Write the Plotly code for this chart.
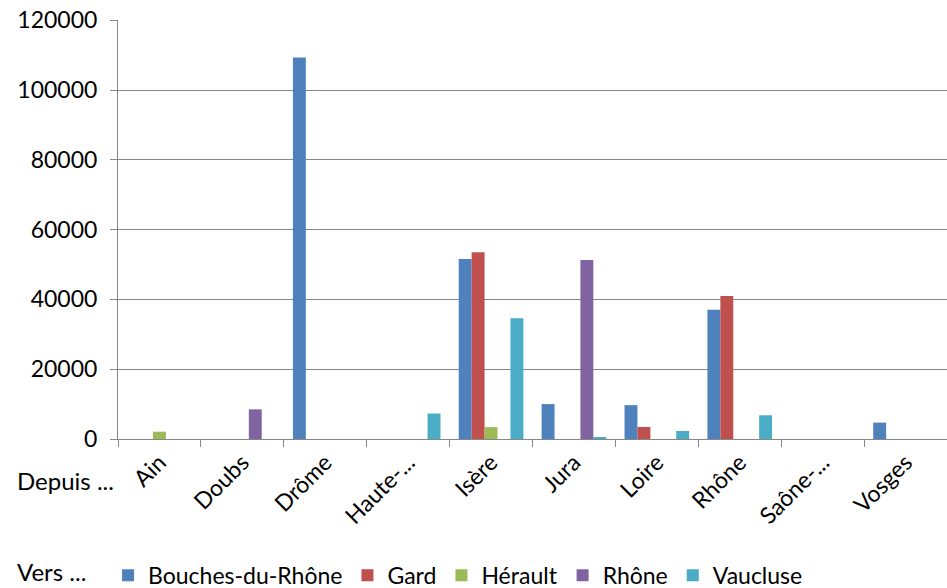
import plotly.graph_objects as go

# departements d'origine
origines = ["Ain", "Doubs", "Drôme", "Haute-...", "Isère", "Jura", "Loire", "Rhône", "Saône-...", "Vosges"]

# destination -> valeurs par origine
bouches_du_rhone = [0, 0, 109300, 0, 51600, 10000, 9700, 37000, 0, 4700]
gard = [0, 0, 0, 0, 53500, 0, 3450, 41000, 0, 0]
herault = [2100, 0, 0, 0, 3400, 0, 0, 0, 0, 0]
rhone = [0, 8500, 0, 0, 0, 51300, 0, 0, 0, 0]
vaucluse = [0, 0, 0, 7300, 34600, 500, 2300, 6800, 0, 0]

series = [
    ("Bouches-du-Rhône", bouches_du_rhone, "#4F81BD"),
    ("Gard", gard, "#C0504D"),
    ("Hérault", herault, "#9BBB59"),
    ("Rhône", rhone, "#8064A2"),
    ("Vaucluse", vaucluse, "#4BACC6"),
]

FONT = "Lato"
FS = 23
GRID = "#878787"

fig = go.Figure()
for name, vals, col in series:
    fig.add_trace(go.Bar(
        x=origines, y=vals, name=name,
        marker=dict(color=col, line=dict(width=0)),
    ))

fig.update_layout(
    width=947, height=588,
    paper_bgcolor="white", plot_bgcolor="white",
    margin=dict(l=118, r=0, t=20, b=149, autoexpand=False),
    barmode="group", bargap=0.22, bargroupgap=0,
    font=dict(family=FONT, size=FS, color="#000000"),
    legend=dict(
        orientation="h", x=-0.012, xanchor="left", y=-0.325, yanchor="middle",
        font=dict(family=FONT, size=FS), itemwidth=30, tracegroupgap=0,
    ),
    annotations=[
        dict(text="Depuis ...", xref="paper", yref="paper", x=-0.124, y=-0.1,
             xanchor="left", yanchor="middle", showarrow=False,
             font=dict(family=FONT, size=24)),
        dict(text="Vers ...", xref="paper", yref="paper", x=-0.124, y=-0.317,
             xanchor="left", yanchor="middle", showarrow=False,
             font=dict(family=FONT, size=24)),
    ],
)

fig.update_yaxes(
    range=[0, 120060], tickvals=[0, 20000, 40000, 60000, 80000, 100000, 120000],
    tickformat="d", ticklabeloverflow="allow", ticklabelstandoff=8,
    showgrid=True, gridcolor=GRID, gridwidth=1,
    showline=True, linecolor=GRID, linewidth=1,
    ticks="outside", ticklen=7, tickcolor=GRID,
    zeroline=False, tickfont=dict(size=FS), automargin=False,
)
fig.update_xaxes(
    tickangle=-45, tickson="boundaries", ticklabeloverflow="allow",
    showline=True, linecolor=GRID, linewidth=1,
    ticks="outside", ticklen=7, tickcolor=GRID,
    tickfont=dict(size=FS), automargin=False,
)

# drop the default 8px body margin so the figure fills the window
fig.write_html("out.html", config={"displayModeBar": False},
               post_script="document.body.style.margin='0';")
